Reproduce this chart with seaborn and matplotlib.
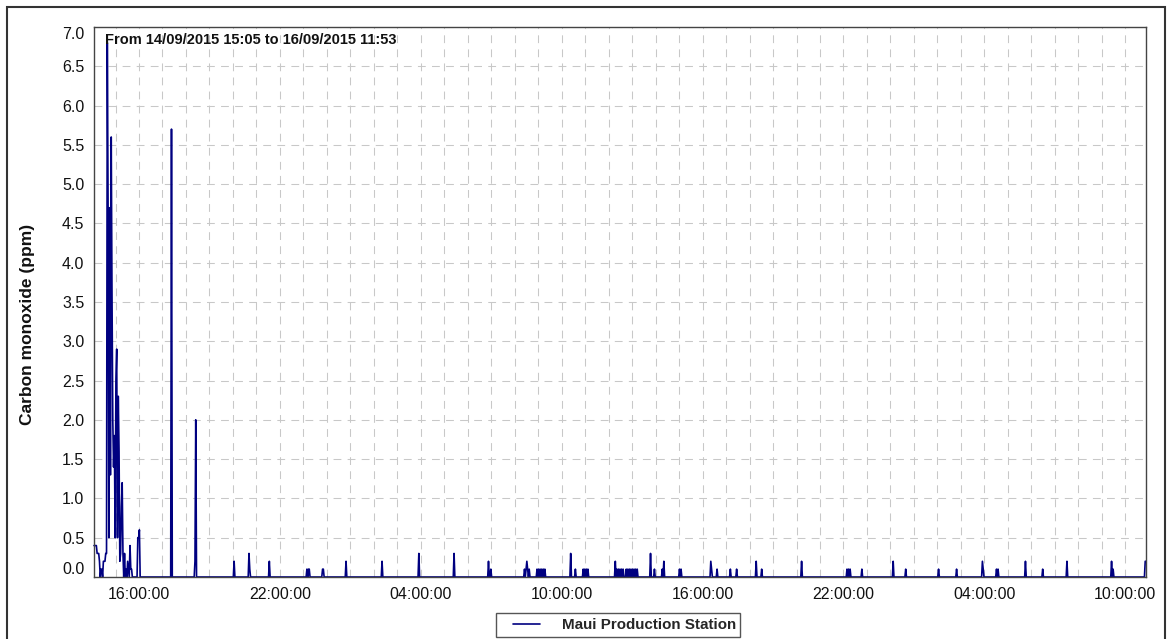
import pandas as pd
import matplotlib
matplotlib.use("Agg")
import matplotlib.pyplot as plt
import matplotlib.dates as mdates
from matplotlib.patches import Rectangle
from matplotlib.lines import Line2D
from matplotlib.legend_handler import HandlerLine2D
import seaborn as sns

# Time axis as drawn on the chart (ticks run one hour behind the title text)
axis_start = "2015-09-14 14:05"
axis_end = "2015-09-16 10:53"
sample_step = "2min"

# Readings at the start of the record, one every 2 minutes from axis_start
cluster_values = [
    0.4, 0.4, 0.4, 0.4, 0.3, 0.3, 0.3, 0.2, 0.0, 0.1,
    0.1, 0.0, 0.2, 0.2, 0.2, 0.3, 0.3, 6.8, 4.7, 0.5,
    4.7, 1.3, 5.6, 3.6, 2.0, 1.4, 1.8, 0.5, 2.5, 2.9,
    0.5, 2.3, 1.6, 0.2, 0.3, 0.9, 1.2, 0.3, 0.0, 0.3,
    0.0, 0.1, 0.0, 0.2, 0.1, 0.0, 0.4, 0.1, 0.1, 0.0,
    0.0, 0.0, 0.0, 0.0, 0.0, 0.0, 0.5, 0.5, 0.6, 0.0,
]

# Isolated non-zero readings later on (all other readings are 0.0)
reading_times = [
    "2015-09-14 17:23", "2015-09-14 18:23", "2015-09-14 18:25", "2015-09-14 20:03",
    "2015-09-14 20:41", "2015-09-14 20:43", "2015-09-14 21:33", "2015-09-14 23:09",
    "2015-09-14 23:13", "2015-09-14 23:15", "2015-09-14 23:49", "2015-09-14 23:51",
    "2015-09-15 00:49", "2015-09-15 02:21", "2015-09-15 03:55", "2015-09-15 05:25",
    "2015-09-15 06:53", "2015-09-15 06:59", "2015-09-15 08:25", "2015-09-15 08:29",
    "2015-09-15 08:31", "2015-09-15 08:33", "2015-09-15 08:37", "2015-09-15 08:57",
    "2015-09-15 09:01", "2015-09-15 09:05", "2015-09-15 09:09", "2015-09-15 09:13",
    "2015-09-15 09:17", "2015-09-15 10:23", "2015-09-15 10:35", "2015-09-15 10:55",
    "2015-09-15 10:59", "2015-09-15 11:03", "2015-09-15 11:07", "2015-09-15 12:17",
    "2015-09-15 12:21", "2015-09-15 12:25", "2015-09-15 12:29", "2015-09-15 12:33",
    "2015-09-15 12:37", "2015-09-15 12:45", "2015-09-15 12:49", "2015-09-15 12:53",
    "2015-09-15 12:57", "2015-09-15 13:01", "2015-09-15 13:05", "2015-09-15 13:09",
    "2015-09-15 13:13", "2015-09-15 13:47", "2015-09-15 13:57", "2015-09-15 14:17",
    "2015-09-15 14:21", "2015-09-15 15:01", "2015-09-15 15:05", "2015-09-15 16:21",
    "2015-09-15 16:23", "2015-09-15 16:37", "2015-09-15 17:11", "2015-09-15 17:27",
    "2015-09-15 18:17", "2015-09-15 18:31", "2015-09-15 20:13", "2015-09-15 22:09",
    "2015-09-15 22:13", "2015-09-15 22:17", "2015-09-15 22:47", "2015-09-16 00:07",
    "2015-09-16 00:39", "2015-09-16 02:03", "2015-09-16 02:49", "2015-09-16 03:55",
    "2015-09-16 03:57", "2015-09-16 04:31", "2015-09-16 04:35", "2015-09-16 05:45",
    "2015-09-16 06:29", "2015-09-16 07:31", "2015-09-16 09:25", "2015-09-16 09:29",
    "2015-09-16 10:51", "2015-09-16 10:53",
]
reading_values = [
    5.7, 0.2, 2.0, 0.2,
    0.3, 0.1, 0.2, 0.1,
    0.1, 0.1, 0.1, 0.1,
    0.2, 0.2, 0.3, 0.3,
    0.2, 0.1, 0.1, 0.1,
    0.2, 0.1, 0.1, 0.1,
    0.1, 0.1, 0.1, 0.1,
    0.1, 0.3, 0.1, 0.1,
    0.1, 0.1, 0.1, 0.2,
    0.1, 0.1, 0.1, 0.1,
    0.1, 0.1, 0.1, 0.1,
    0.1, 0.1, 0.1, 0.1,
    0.1, 0.3, 0.1, 0.1,
    0.2, 0.1, 0.1, 0.2,
    0.1, 0.1, 0.1, 0.1,
    0.2, 0.1, 0.2, 0.1,
    0.1, 0.1, 0.1, 0.2,
    0.1, 0.1, 0.1, 0.2,
    0.1, 0.1, 0.1, 0.2,
    0.1, 0.2, 0.2, 0.1,
    0.2, 0.2,
]

y_ticks = [0.0, 0.5, 1.0, 1.5, 2.0, 2.5, 3.0, 3.5, 4.0, 4.5, 5.0, 5.5, 6.0, 6.5, 7.0]
title_text = "From 14/09/2015 15:05 to 16/09/2015 11:53"
y_label = "Carbon monoxide (ppm)"
series_name = "Maui Production Station"
line_color = "#000080"


def build_series():
    grid = pd.date_range(axis_start, axis_end, freq=sample_step)
    co = pd.Series(0.0, index=grid)
    co.iloc[:len(cluster_values)] = cluster_values
    co.loc[pd.to_datetime(reading_times)] = reading_values
    return pd.DataFrame({"time": grid, "co": co.values})


df = build_series()

sns.set_style("white")
plt.rcParams["font.family"] = ["Liberation Sans", "DejaVu Sans"]

W, H = 1169, 639
fig = plt.figure(figsize=(W / 100, H / 100), dpi=100)
fig.patches.append(Rectangle((7 / W, -0.05), (1165 - 7) / W, 1.05 - 7 / H,
                             transform=fig.transFigure, fill=False,
                             edgecolor="#333333", linewidth=1.5))

ax = fig.add_axes([94 / W, 1 - 577 / H, (1146 - 94) / W, (577 - 27) / H])
sns.lineplot(data=df, x="time", y="co", color=line_color, linewidth=1.2,
             estimator=None, legend=False, ax=ax)
for line in ax.get_lines():
    line.set_clip_on(False)

ax.set_xlim(df["time"].iloc[0], df["time"].iloc[-1])
ax.set_ylim(0, 7)
ax.set_yticks(y_ticks)
ax.set_yticklabels([f"{v:.1f}" for v in y_ticks])
ax.xaxis.set_major_locator(mdates.HourLocator(byhour=[4, 10, 16, 22]))
ax.xaxis.set_major_formatter(mdates.DateFormatter("%H:%M:%S"))
ax.xaxis.set_minor_locator(mdates.HourLocator())

grid_kw = dict(color="#c8c8c8", linewidth=0.75, linestyle=(0, (7.5, 6)))
ax.grid(which="both", axis="x", **grid_kw)
ax.grid(which="major", axis="y", **grid_kw)
ax.set_axisbelow(True)
ax.tick_params(which="both", length=0, pad=7, labelsize=11.5, labelcolor="#111111")

# end labels sit inside the axis range, as in the original
ticks = ax.yaxis.get_major_ticks()
ticks[0].label1.set_verticalalignment("bottom")
ticks[-1].label1.set_verticalalignment("top")

for side in ["left", "right", "top", "bottom"]:
    ax.spines[side].set_visible(True)
    ax.spines[side].set_color("#444444")
    ax.spines[side].set_linewidth(1.0)

ax.set_xlabel("")
ax.set_ylabel(y_label, fontsize=12.5, fontweight="bold", color="#111111")
ax.yaxis.set_label_coords((35 - 94) / 1052, 0.46)

ax.text(0.0105, 0.976, title_text, transform=ax.transAxes, ha="left", va="center",
        fontsize=10.5, fontweight="bold", color="#111111")

handle = Line2D([], [], color=line_color, linewidth=1.2)
fig.legend([handle], [series_name], loc="center",
           bbox_to_anchor=(618 / W, 1 - 625 / H),
           frameon=True, fancybox=False, edgecolor="#555555", framealpha=1,
           borderpad=0.3, handlelength=2.6, handletextpad=1.45,
           handler_map={Line2D: HandlerLine2D(xpad=0.85)},
           prop={"weight": "bold", "size": 10.9})

fig.savefig("out.png", dpi=100, facecolor="white")
